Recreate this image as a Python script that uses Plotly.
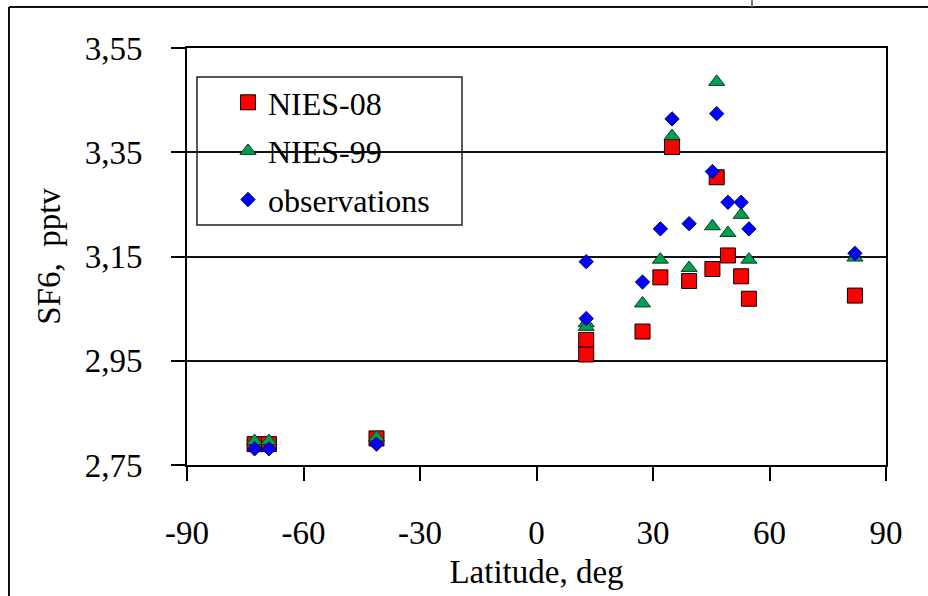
import plotly.graph_objects as go

# Station latitudes (deg) and SF6 mixing ratios (pptv)
latitude = [-72.6, -68.9, -41.2, 12.8, 12.8, 27.3, 31.9, 34.9, 39.3, 45.3, 46.4, 49.3, 52.7, 54.7, 82.0]
nies08 = [2.790, 2.790, 2.801, 2.990, 2.962, 3.006, 3.110, 3.360, 3.103, 3.126, 3.302, 3.152, 3.112, 3.069, 3.075]
nies99 = [2.796, 2.796, 2.803, 3.022, 3.015, 3.060, 3.144, 3.381, 3.128, 3.208, 3.485, 3.195, 3.230, 3.144, 3.148]
observations = [2.781, 2.781, 2.790, 3.031, 3.140, 3.101, 3.203, 3.414, 3.213, 3.313, 3.424, 3.254, 3.254, 3.203, 3.156]

x_ticks = [-90, -60, -30, 0, 30, 60, 90]
y_ticks = [2.75, 2.95, 3.15, 3.35, 3.55]

FONT = "Liberation Serif"

fig = go.Figure()
fig.add_trace(go.Scatter(
    x=latitude, y=nies08, mode="markers", name="NIES-08", legendgroup="a",
    marker=dict(symbol="square", size=15, color="#FF0000", line=dict(color="#000000", width=1)),
))
fig.add_trace(go.Scatter(
    x=latitude, y=nies99, mode="markers", name="NIES-99", legendgroup="b",
    marker=dict(symbol="triangle-up", size=14, color="#00A050", line=dict(color="#0B3B1E", width=1)),
))
fig.add_trace(go.Scatter(
    x=latitude, y=observations, mode="markers", name="observations", legendgroup="c",
    marker=dict(symbol="diamond", size=11, color="#0000FF", line=dict(color="#000066", width=1)),
))

# plot-area geometry in pixels, used to place the outer frame shapes
L, R, T, B = 187, 886, 48, 465
W, H = 928, 596
pw, ph = R - L, B - T


def px_x(p):
    return (p - L) / pw


def px_y(p):
    return (B - p) / ph


shapes = [
    # outer frame (left and top edges)
    dict(type="line", xref="paper", yref="paper", x0=px_x(9), x1=px_x(9), y0=px_y(7), y1=px_y(620),
         line=dict(color="#111111", width=2)),
    dict(type="line", xref="paper", yref="paper", x0=px_x(9), x1=px_x(960), y0=px_y(7), y1=px_y(7),
         line=dict(color="#111111", width=2)),
    dict(type="line", xref="paper", yref="paper", x0=px_x(752), x1=px_x(752), y0=px_y(7), y1=px_y(-5),
         line=dict(color="#777777", width=2)),
    # legend frame
    dict(type="rect", xref="paper", yref="paper", x0=px_x(197), x1=px_x(462), y0=px_y(225), y1=px_y(77),
         line=dict(color="#222222", width=1.5), fillcolor="rgba(0,0,0,0)"),
]

fig.update_layout(
    width=W, height=H,
    margin=dict(l=L, r=W - R, t=T, b=H - B),
    paper_bgcolor="white", plot_bgcolor="white",
    separators=", ",
    font=dict(family=FONT, size=33, color="black"),
    showlegend=True,
    legend=dict(
        x=px_x(228), y=px_y(75), xanchor="left", yanchor="top",
        bgcolor="rgba(0,0,0,0)", borderwidth=0,
        font=dict(family=FONT, size=32, color="black"),
        tracegroupgap=4, itemwidth=30,
    ),
    shapes=shapes,
)

fig.update_xaxes(
    range=[-90, 90], tickvals=x_ticks, ticktext=[str(v) for v in x_ticks],
    showgrid=False, zeroline=False,
    showline=True, linecolor="black", linewidth=2, mirror=True,
    ticks="outside", ticklen=14, tickwidth=2, tickcolor="black",
    ticklabelstandoff=23,
    tickfont=dict(family=FONT, size=33, color="black"),
    title=dict(text="Latitude, deg", font=dict(family=FONT, size=33, color="black"), standoff=10),
)
fig.update_yaxes(
    range=[2.75, 3.55], tickvals=y_ticks, tickformat=".2f",
    showgrid=True, gridcolor="#111111", gridwidth=1.5, zeroline=False,
    showline=True, linecolor="black", linewidth=2, mirror=True,
    ticks="outside", ticklen=14, tickwidth=2, tickcolor="black",
    ticklabelstandoff=22,
    tickfont=dict(family=FONT, size=33, color="black"),
    title=dict(text="SF6,&nbsp; pptv", font=dict(family=FONT, size=33, color="black"), standoff=14),
)

fig.write_html("out.html")
